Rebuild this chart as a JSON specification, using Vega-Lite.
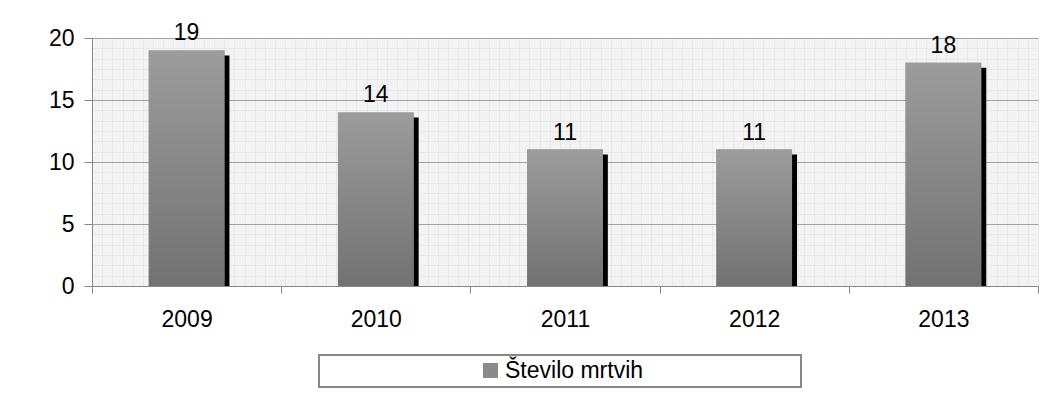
{
  "$schema": "https://vega.github.io/schema/vega-lite/v6.json",
  "width": 946,
  "height": 248,
  "autosize": {"type": "none"},
  "padding": {"left": 92, "top": 38, "right": 20, "bottom": 115},
  "background": "white",
  "config": {
    "view": {"stroke": null, "fill": "#f3f3f3"},
    "font": "Liberation Sans",
    "axis": {"labelFont": "Liberation Sans", "labelFontSize": 23, "labelColor": "black"},
    "legend": {"strokeWidth": 2}
  },
  "layer": [
    {
      "mark": {"type": "rule", "opacity": 0},
      "encoding": {
        "x": {
          "datum": 0,
          "type": "quantitative",
          "scale": {"domain": [0, 93], "nice": false, "zero": false},
          "axis": {"orient": "top", "grid": true, "gridColor": "#e8e8e8", "gridWidth": 1, "tickCount": 93, "labels": false, "ticks": false, "domain": false, "title": null}
        }
      }
    },
    {
      "mark": {"type": "rule", "opacity": 0},
      "encoding": {
        "y": {
          "datum": 0,
          "type": "quantitative",
          "scale": {"domain": [0, 24], "nice": false, "zero": false},
          "axis": {"orient": "right", "grid": true, "gridColor": "#e8e8e8", "gridWidth": 1, "tickCount": 24, "labels": false, "ticks": false, "domain": false, "title": null}
        }
      }
    },
    {
      "data": {
        "values": [
          {"leto": "2009", "mrtvi": 19},
          {"leto": "2010", "mrtvi": 14},
          {"leto": "2011", "mrtvi": 11},
          {"leto": "2012", "mrtvi": 11},
          {"leto": "2013", "mrtvi": 18}
        ]
      },
      "encoding": {
        "x": {
          "field": "leto",
          "type": "nominal",
          "scale": {"paddingInner": 0, "paddingOuter": 0},
          "axis": {"orient": "bottom", "title": null, "labelAngle": 0, "grid": false, "domainColor": "#888888", "tickColor": "#888888", "tickSize": 7, "tickBand": "extent", "labelPadding": 15}
        },
        "y": {
          "field": "mrtvi",
          "type": "quantitative",
          "scale": {"domain": [0, 20], "nice": false},
          "axis": {"orient": "left", "title": null, "values": [0, 5, 10, 15, 20], "grid": true, "gridColor": "#a3a3a3", "gridWidth": 1.2, "domainColor": "#888888", "tickColor": "#888888", "tickSize": 8, "labelPadding": 10}
        }
      },
      "layer": [
        {
          "mark": {"type": "bar", "color": "black", "width": {"band": 0.4}, "xOffset": 5, "yOffset": 5, "y2Offset": 0},
          "encoding": {"y2": {"datum": 0}}
        },
        {
          "mark": {"type": "bar", "width": {"band": 0.4}},
          "encoding": {
            "color": {
              "datum": "Število mrtvih",
              "scale": {"range": ["#8a8a8a"]},
              "legend": {
                "title": null,
                "orient": "none",
                "legendX": 227,
                "legendY": 317,
                "padding": 4,
                "strokeColor": "#888888",
                "fillColor": "white",
                "symbolType": "square",
                "symbolSize": 225,
                "symbolOffset": 156,
                "symbolStrokeWidth": 0,
                "symbolOpacity": 1,
                "labelOffset": 3,
                "labelFontSize": 23,
                "labelFont": "Liberation Sans",
                "labelColor": "black",
                "labelLimit": 600,
                "labelExpr": "datum.label + '\u00a0\u00a0\u00a0\u00a0\u00a0\u00a0\u00a0\u00a0\u00a0\u00a0\u00a0\u00a0\u00a0\u00a0\u00a0\u00a0\u00a0\u00a0\u00a0\u00a0\u00a0\u00a0\u00a0\u00a0\u200b'"
              }
            }
          }
        },
        {
          "mark": {
            "type": "bar",
            "width": {"band": 0.4},
            "color": {"gradient": "linear", "x1": 0, "y1": 0, "x2": 0, "y2": 1, "stops": [{"offset": 0, "color": "#9c9c9c"}, {"offset": 1, "color": "#727272"}]}
          }
        },
        {
          "mark": {"type": "text", "fontSize": 23, "font": "Liberation Sans", "color": "black", "baseline": "alphabetic", "dy": -10},
          "encoding": {"text": {"field": "mrtvi", "type": "quantitative"}}
        }
      ]
    }
  ],
  "resolve": {"scale": {"x": "independent", "y": "independent"}}
}
